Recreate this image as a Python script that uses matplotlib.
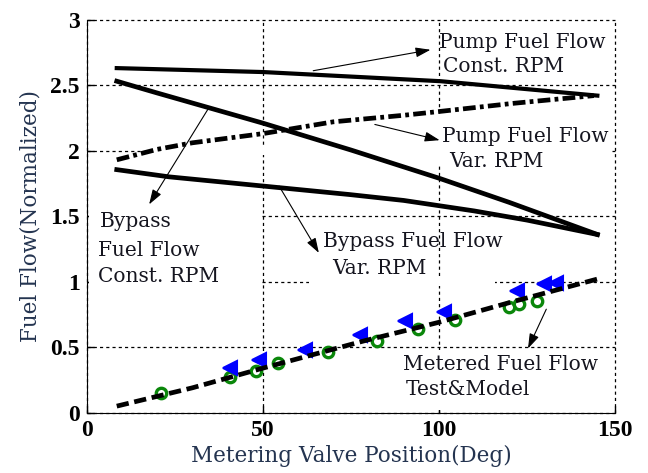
import matplotlib
matplotlib.use('Agg')
import matplotlib.pyplot as plt
from matplotlib.patches import Rectangle

# curves (x = valve position in deg, y = normalized flow)
pump_const_x = [8.5, 50, 100.5, 145]
pump_const_y = [2.63, 2.60, 2.53, 2.42]

pump_var_x = [8.5, 20, 30, 50, 70, 90, 100.5, 120.7, 144]
pump_var_y = [1.93, 2.01, 2.06, 2.13, 2.22, 2.27, 2.30, 2.36, 2.42]

bypass_const_x = [8.5, 20, 35, 50, 75, 100, 120, 145]
bypass_const_y = [2.53, 2.44, 2.325, 2.21, 2.005, 1.79, 1.605, 1.36]

bypass_var_x = [8.5, 23.4, 50, 74.6, 90, 110, 125, 145]
bypass_var_y = [1.855, 1.80, 1.73, 1.665, 1.62, 1.54, 1.47, 1.36]

model_x = [8.5, 30, 50, 79, 100, 120, 145]
model_y = [0.05, 0.19, 0.34, 0.55, 0.69, 0.84, 1.02]

test_x = [21.2, 40.6, 48.1, 54.4, 68.5, 82.5, 94.0, 104.7, 120.0, 122.8, 128.0]
test_y = [0.147, 0.27, 0.32, 0.376, 0.465, 0.55, 0.64, 0.71, 0.805, 0.83, 0.855]

test2_x = [40.8, 48.8, 61.9, 77.7, 90.5, 101.4, 122.3, 129.9, 133.2]
test2_y = [0.34, 0.40, 0.48, 0.596, 0.70, 0.77, 0.93, 0.98, 0.99]

xticks = [0, 50, 100, 150]
yticks = [0, 0.5, 1, 1.5, 2, 2.5, 3]
ytick_labels = ['0', '0.5', '1', '1.5', '2', '2.5', '3']

txt_font = 'DejaVu Serif'
txt_color = '#15151f'
lab_color = '#243450'

fig = plt.figure(figsize=(6.48, 4.73), dpi=100)
ax = fig.add_axes([0.134, 0.1275, 0.815, 0.831])

ax.plot(pump_const_x, pump_const_y, color='k', lw=3.0, zorder=2)
ax.plot(bypass_const_x, bypass_const_y, color='k', lw=3.4, zorder=2)
ax.plot(pump_var_x, pump_var_y, color='k', lw=3.4, linestyle=(0, (2.7, 0.9, 0.8, 0.9)), zorder=2)
ax.plot(bypass_var_x, bypass_var_y, color='k', lw=3.4, zorder=2)

ax.plot(test_x, test_y, 'o', ms=7.5, mfc='none', mec='#0a870a', mew=2.4, zorder=2)
ax.plot(test2_x, test2_y, '<', ms=10, mfc='#0000ff', mec='#0000ff', mew=1.5, zorder=2)
ax.plot(model_x, model_y, color='k', lw=3.4, linestyle=(0, (2.6, 1.2)), zorder=3)

ax.set_xlim(0, 150)
ax.set_ylim(0, 3)
ax.set_xticks(xticks)
ax.set_yticks(yticks)
ax.set_yticklabels(ytick_labels)
for lbl in ax.get_xticklabels() + ax.get_yticklabels():
    lbl.set_fontfamily('Liberation Serif')
    lbl.set_fontweight('bold')
    lbl.set_fontsize(17)
ax.tick_params(direction='in', length=5, width=1, pad=5)
ax.spines['top'].set_visible(False)
ax.spines['right'].set_visible(False)
ax.set_axisbelow(True)
ax.grid(True, color='k', lw=0.9, linestyle=(0, (2.5, 2.5)))
for gl in ax.get_xgridlines() + ax.get_ygridlines():
    gl.set_clip_on(False)

# white backgrounds of the text boxes hiding parts of the grid
covers = [(99.5, 1.88, 49.3, 0.4), (18, 1.97, 82, 0.06), (0.6, 0.6, 48.8, 1.0),
          (63, 0.97, 53, 0.06), (86, 0.02, 63, 0.46)]
for cx, cy, cw, ch in covers:
    ax.add_patch(Rectangle((cx, cy), cw, ch, facecolor='white', edgecolor='none', zorder=1))

ax.set_xlabel('Metering Valve Position(Deg)', fontfamily=txt_font, fontsize=15.5,
              color=lab_color, labelpad=3)
ax.set_ylabel('Fuel Flow(Normalized)', fontfamily=txt_font, fontsize=15.5,
              color=lab_color, labelpad=6)

labels = [
    ('Pump Fuel Flow', 100.0, 2.786), ('Const. RPM', 101.3, 2.60),
    ('Pump Fuel Flow', 100.9, 2.065), ('Var. RPM', 102.9, 1.877),
    ('Bypass', 3.6, 1.42), ('Fuel Flow', 3.1, 1.195), ('Const. RPM', 3.3, 1.0),
    ('Bypass Fuel Flow', 67.1, 1.263), ('Var. RPM', 69.7, 1.056),
    ('Metered Fuel Flow', 89.7, 0.323), ('Test&Model', 90.6, 0.134),
]
for s, tx, ty in labels:
    ax.text(tx, ty, s, fontfamily=txt_font, fontsize=14.5, color=txt_color,
            ha='left', va='baseline', zorder=4)

arrows = [
    ((64.3, 2.61), (97.6, 2.77)),
    ((81.8, 2.20), (100.2, 2.08)),
    ((34.6, 2.325), (17.7, 1.59)),
    ((54.6, 1.73), (65.9, 1.22)),
    ((130.5, 0.79), (125.3, 0.49)),
]
for tail, head in arrows:
    ax.annotate('', xy=head, xytext=tail, zorder=4,
                arrowprops=dict(arrowstyle='-|>,head_width=0.3,head_length=0.9',
                                color='k', lw=0.8, shrinkA=0, shrinkB=0))

fig.savefig('out.png', dpi=100)
